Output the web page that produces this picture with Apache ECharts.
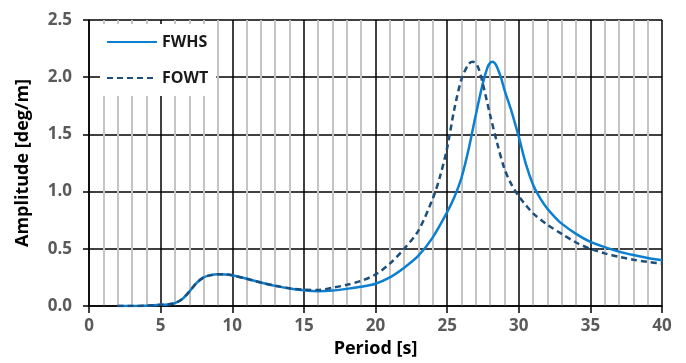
<!DOCTYPE html>
<html>
<head>
<meta charset="utf-8">
<script src="https://cdn.jsdelivr.net/npm/echarts@6/dist/echarts.min.js"></script>
<style>
  html, body { margin: 0; padding: 0; background: #fff; }
  #chart { width: 686px; height: 363px; }
</style>
</head>
<body>
<div id="chart"></div>
<script>
// period [s] / amplitude [deg/m]
const fwhsX = [2, 3, 4, 5, 5.5, 6, 6.5, 7, 7.5, 8, 8.5, 9, 9.5, 10, 11, 12, 13, 14, 15, 16, 17, 18, 19, 20, 21, 22, 23, 24, 25, 25.5, 26, 26.5, 27, 27.5, 27.8, 28, 28.15, 28.4, 28.75, 29, 29.5, 30, 30.5, 31, 31.5, 32, 32.5, 33, 34, 35, 36, 37, 38, 39, 40];
const fwhsY = [0, 0, 0.003, 0.01, 0.014, 0.025, 0.06, 0.125, 0.2, 0.25, 0.27, 0.277, 0.276, 0.268, 0.238, 0.205, 0.176, 0.153, 0.138, 0.13, 0.135, 0.15, 0.168, 0.195, 0.25, 0.335, 0.44, 0.6, 0.82, 0.95, 1.12, 1.37, 1.67, 1.95, 2.08, 2.125, 2.135, 2.11, 2.0, 1.89, 1.7, 1.48, 1.24, 1.06, 0.94, 0.85, 0.78, 0.72, 0.63, 0.56, 0.515, 0.475, 0.445, 0.42, 0.4];

const fowtX = [2, 3, 4, 5, 5.5, 6, 6.5, 7, 7.5, 8, 8.5, 9, 9.5, 10, 11, 12, 13, 14, 15, 16, 17, 18, 19, 20, 21, 22, 23, 24, 24.5, 25, 25.5, 26, 26.5, 26.8, 27, 27.2, 27.5, 28, 28.5, 29, 29.5, 30, 30.5, 31, 32, 33, 34, 35, 36, 37, 38, 39, 40];
const fowtY = [0, 0, 0.003, 0.01, 0.014, 0.025, 0.06, 0.125, 0.2, 0.25, 0.27, 0.277, 0.276, 0.268, 0.238, 0.205, 0.178, 0.155, 0.142, 0.14, 0.16, 0.185, 0.22, 0.275, 0.37, 0.5, 0.66, 0.94, 1.13, 1.38, 1.72, 1.98, 2.115, 2.135, 2.12, 2.075, 1.94, 1.67, 1.42, 1.2, 1.06, 0.96, 0.88, 0.81, 0.71, 0.63, 0.555, 0.5, 0.46, 0.43, 0.405, 0.385, 0.37];

const pair = (xs, ys) => xs.map((x, i) => [x, ys[i]]);

const chart = echarts.init(document.getElementById('chart'));
const font = '"Open Sans", sans-serif';

chart.setOption({
  animation: false,
  backgroundColor: '#fff',
  textStyle: { fontFamily: font },
  grid: { left: 89, right: 24, top: 20, bottom: 57, outerBoundsMode: 'none' },
  legend: {
    orient: 'vertical',
    left: 100,
    top: 24,
    padding: [10, 8, 10, 6],
    itemWidth: 50,
    itemHeight: 12,
    itemGap: 20,
    backgroundColor: '#fff',
    itemStyle: { opacity: 0 },
    textStyle: { fontSize: 16, fontWeight: 'bold', color: '#1a1a1a', fontFamily: font },
    data: ['FWHS', 'FOWT']
  },
  xAxis: {
    type: 'value',
    min: 0, max: 40, interval: 5,
    name: 'Period [s]',
    nameLocation: 'middle',
    nameGap: 34,
    nameTextStyle: { fontSize: 18, fontWeight: 'bold', color: '#000' },
    axisLine: { lineStyle: { color: '#000', width: 1.5 } },
    axisTick: { show: true, length: 7, lineStyle: { color: '#000', width: 1.5 } },
    axisLabel: { margin: 12, fontSize: 17, fontWeight: 'bold', color: '#5a5a5a' },
    splitLine: { show: true, lineStyle: { color: '#000', width: 1.5 } },
    minorTick: { show: true, splitNumber: 5, length: 0 },
    minorSplitLine: { show: true, lineStyle: { color: '#c4c4c4', width: 2 } }
  },
  yAxis: {
    type: 'value',
    min: 0, max: 2.5, interval: 0.5,
    name: 'Amplitude [deg/m]',
    nameLocation: 'middle',
    nameGap: 57,
    nameTextStyle: { fontSize: 18, fontWeight: 'bold', color: '#000' },
    axisLine: { show: true, lineStyle: { color: '#000', width: 1.5 } },
    axisTick: { show: true, length: 6, lineStyle: { color: '#000', width: 1.5 } },
    axisLabel: { margin: 17, fontSize: 17, fontWeight: 'bold', color: '#5a5a5a', formatter: v => v.toFixed(1) },
    splitLine: { show: true, lineStyle: { color: '#000', width: 1.5 } }
  },
  series: [
    {
      name: 'FWHS',
      type: 'line',
      data: pair(fwhsX, fwhsY),
      smooth: 0.3,
      symbol: 'none',
      z: 5,
      lineStyle: { color: '#0b7fd1', width: 2.5 },
      itemStyle: { color: '#0b7fd1' }
    },
    {
      name: 'FOWT',
      type: 'line',
      data: pair(fowtX, fowtY),
      smooth: 0.3,
      symbol: 'none',
      z: 6,
      lineStyle: { color: '#1c4f7c', width: 2.5, type: [6, 4] },
      itemStyle: { color: '#1c4f7c' }
    }
  ]
});
</script>
</body>
</html>
